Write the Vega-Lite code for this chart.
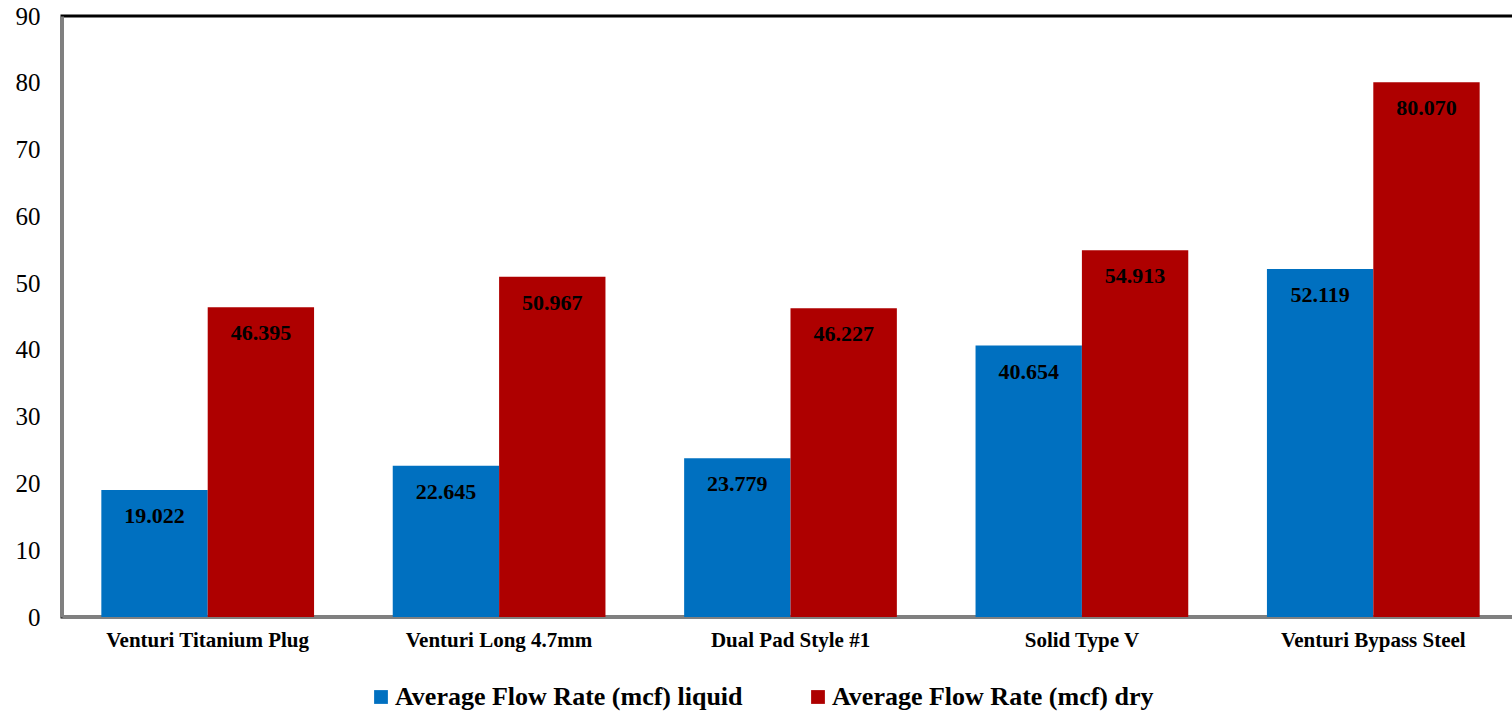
{
  "$schema": "https://vega.github.io/schema/vega-lite/v6.json",
  "autosize": {"type": "none"},
  "padding": {"left": 62, "top": 16, "right": 0, "bottom": 95},
  "width": 1457,
  "height": 601,
  "background": "white",
  "data": {
    "values": [
      {"device": "Venturi Titanium Plug", "series": "Average Flow Rate (mcf) liquid", "flow": 19.022},
      {"device": "Venturi Titanium Plug", "series": "Average Flow Rate (mcf) dry", "flow": 46.395},
      {"device": "Venturi Long 4.7mm", "series": "Average Flow Rate (mcf) liquid", "flow": 22.645},
      {"device": "Venturi Long 4.7mm", "series": "Average Flow Rate (mcf) dry", "flow": 50.967},
      {"device": "Dual Pad Style #1", "series": "Average Flow Rate (mcf) liquid", "flow": 23.779},
      {"device": "Dual Pad Style #1", "series": "Average Flow Rate (mcf) dry", "flow": 46.227},
      {"device": "Solid Type V", "series": "Average Flow Rate (mcf) liquid", "flow": 40.654},
      {"device": "Solid Type V", "series": "Average Flow Rate (mcf) dry", "flow": 54.913},
      {"device": "Venturi Bypass Steel", "series": "Average Flow Rate (mcf) liquid", "flow": 52.119},
      {"device": "Venturi Bypass Steel", "series": "Average Flow Rate (mcf) dry", "flow": 80.07}
    ]
  },
  "encoding": {
    "x": {
      "field": "device",
      "type": "nominal",
      "sort": null,
      "scale": {"paddingInner": 0.27, "paddingOuter": 0.135},
      "axis": {
        "title": null,
        "labelAngle": 0,
        "labelFont": "Liberation Serif",
        "labelFontWeight": "bold",
        "labelFontSize": 21,
        "labelColor": "#000",
        "labelPadding": 12,
        "labelLimit": 400,
        "ticks": false,
        "domainColor": "#808080",
        "domainWidth": 3
      }
    },
    "xOffset": {"field": "series", "type": "nominal", "sort": ["Average Flow Rate (mcf) liquid", "Average Flow Rate (mcf) dry"]},
    "y": {
      "field": "flow",
      "type": "quantitative",
      "scale": {"domain": [0, 90], "nice": false},
      "axis": {
        "title": null,
        "values": [0, 10, 20, 30, 40, 50, 60, 70, 80, 90],
        "labelOverlap": false,
        "labelBound": false,
        "grid": false,
        "ticks": false,
        "labelFont": "Liberation Serif",
        "labelFontSize": 25,
        "labelColor": "#000",
        "labelPadding": 22,
        "domainColor": "#808080",
        "domainWidth": 3
      }
    }
  },
  "layer": [
    {
      "mark": {"type": "bar"},
      "encoding": {
        "color": {
          "field": "series",
          "type": "nominal",
          "sort": ["Average Flow Rate (mcf) liquid", "Average Flow Rate (mcf) dry"],
          "scale": {
            "domain": ["Average Flow Rate (mcf) liquid", "Average Flow Rate (mcf) dry"],
            "range": ["#0070C0", "#AE0000"]
          },
          "legend": {
            "title": null,
            "orient": "none",
            "legendX": 306,
            "legendY": 668,
            "direction": "horizontal",
            "symbolType": "square",
            "symbolSize": 190,
            "symbolStrokeWidth": 0,
            "labelFont": "Liberation Serif",
            "labelFontWeight": "bold",
            "labelFontSize": 26,
            "labelColor": "#000",
            "labelOffset": 1,
            "columnPadding": 62,
            "labelLimit": 500
          }
        }
      }
    },
    {
      "mark": {
        "type": "text",
        "baseline": "middle",
        "dy": 26,
        "font": "Liberation Serif",
        "fontWeight": "bold",
        "fontSize": 22,
        "color": "#000"
      },
      "encoding": {
        "text": {"field": "flow", "type": "quantitative", "format": ".3f"}
      }
    }
  ],
  "config": {
    "view": {"stroke": "#000", "strokeWidth": 3}
  }
}
